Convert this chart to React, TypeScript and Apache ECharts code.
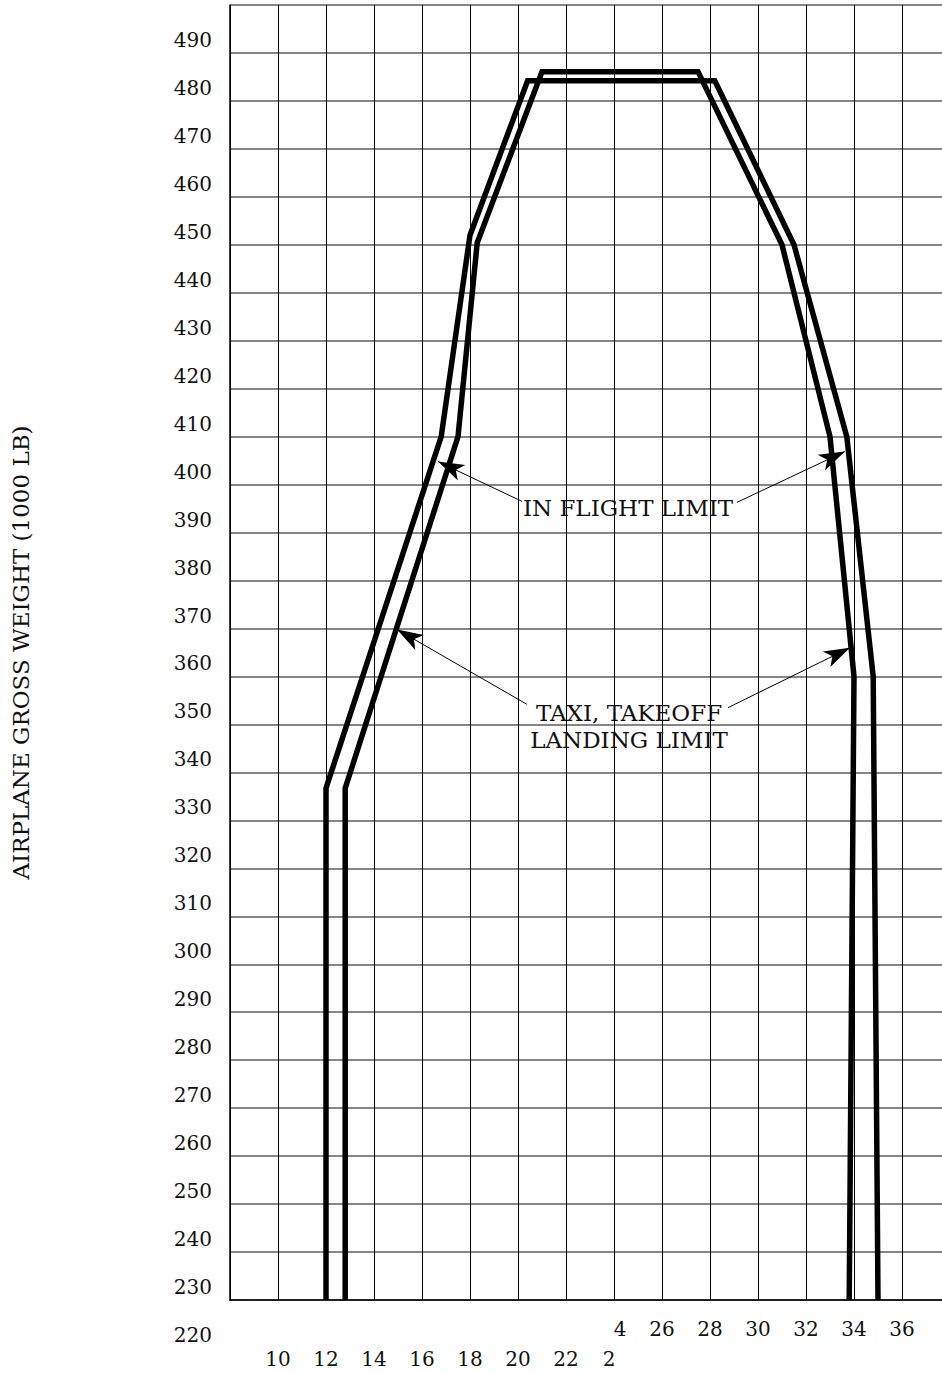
import React, { useEffect, useRef } from "react";
import * as echarts from "echarts";

// ---- data ----
const yTickLabels = [230, 240, 250, 260, 270, 280, 290, 300, 310, 320, 330, 340, 350, 360, 370, 380, 390, 400, 410, 420, 430, 440, 450, 460, 470, 480, 490];
const extraYLabel = 220;
const lowerRowLabels = [10, 12, 14, 16, 18, 20, 22];
const upperRowLabels = [26, 28, 30, 32, 34, 36];
const splitLabel = { value: 24, upper: "4", lower: "2" };

// In flight limit (outer envelope): [CG % MAC, weight 1000 lb]
const inFlightLimit: [number, number][] = [
  [12.0, 230], [12.0, 336.7], [16.8, 410], [18.0, 452], [20.4, 484.2],
  [28.2, 484.2], [31.5, 450], [33.7, 410], [34.8, 360], [35.0, 230],
];
// Taxi, takeoff, landing limit (inner envelope)
const taxiLimit: [number, number][] = [
  [12.8, 230], [12.8, 336.7], [17.5, 410], [18.3, 450.4], [21.0, 486.1],
  [27.5, 486.1], [31.0, 450], [33.0, 410], [34.0, 360], [33.8, 230],
];

// annotation arrows: [from, to] in data coordinates
const inFlightArrows: [number, number][][] = [
  [[20.17, 396.5], [16.67, 404.8]],
  [[29.12, 396.3], [33.62, 406.9]],
];
const taxiArrows: [number, number][][] = [
  [[20.37, 354.2], [14.96, 369.8]],
  [[28.75, 353.5], [33.83, 366.0]],
];

const FONT = "DejaVu Serif";
const INK = "#111";

export default function App() {
  const ref = useRef<HTMLDivElement>(null);
  useEffect(() => {
    if (!ref.current) return;
    const chart = echarts.init(ref.current, undefined, { renderer: "svg" });
    const labelStyle = { fontFamily: FONT, fontSize: 20, color: INK, lineHeight: 30 };
    const yLabel = {
      margin: 18,
      verticalAlign: "bottom",
      lineHeight: 26,
      fontFamily: FONT,
      fontSize: 20,
      color: INK,
      showMinLabel: true,
    };
    const arrowData = [...inFlightArrows, ...taxiArrows].map((a) => [
      { coord: a[0] },
      { coord: a[1] },
    ]);
    chart.setOption({
      animation: false,
      backgroundColor: "#fff",
      textStyle: { fontFamily: FONT },
      grid: [
        { left: 230, right: 0, top: 5, bottom: 73, containLabel: false, outerBoundsMode: "none" },
        { left: 230, right: 0, top: 1300, height: 48, containLabel: false, outerBoundsMode: "none" },
      ],
      xAxis: [
        {
          type: "value",
          gridIndex: 0,
          min: 8,
          max: 8 + 712 / 24,
          interval: 2,
          axisLine: { show: true, lineStyle: { color: "#000", width: 1.5 } },
          axisTick: { show: false },
          splitLine: { show: true, lineStyle: { color: "#000", width: 1 } },
          axisLabel: {
            interval: 0,
            margin: 14,
            hideOverlap: false,
            showMinLabel: true,
            showMaxLabel: true,
            formatter: (v: number) => {
              if (lowerRowLabels.includes(v)) return `{n| }\n{n|${v}}`;
              if (upperRowLabels.includes(v)) return `{n|${v}}\n{n| }`;
              if (v === splitLabel.value) return `{r|${splitLabel.upper}}\n{l|${splitLabel.lower}}`;
              return "";
            },
            rich: {
              n: { ...labelStyle },
              r: { ...labelStyle, padding: [0, 0, 0, 12] },
              l: { ...labelStyle, padding: [0, 10, 0, 0] },
            },
          },
        },
        { type: "value", gridIndex: 1, min: 0, max: 1, show: false },
      ],
      yAxis: [
        {
          type: "value",
          gridIndex: 0,
          min: 230,
          max: 500,
          interval: 10,
          name: "AIRPLANE GROSS WEIGHT (1000 LB)",
          nameLocation: "middle",
          nameRotate: 90,
          nameGap: 198,
          nameTextStyle: { fontFamily: FONT, fontSize: 23, color: INK },
          axisLine: { show: true, lineStyle: { color: "#000", width: 1.5 } },
          axisTick: { show: false },
          splitLine: { show: true, lineStyle: { color: "#5e5e5e", width: 1.5 } },
          axisLabel: {
            ...yLabel,
            formatter: (v: number) => (yTickLabels.includes(v) ? String(v) : ""),
          },
        },
        {
          type: "value",
          gridIndex: 1,
          min: 220,
          max: 230,
          interval: 10,
          axisLine: { show: false },
          axisTick: { show: false },
          splitLine: { show: false },
          axisLabel: {
            ...yLabel,
            formatter: (v: number) => (v === extraYLabel ? String(v) : ""),
          },
        },
      ],
      series: [
        {
          name: "In flight limit",
          type: "line",
          xAxisIndex: 0,
          yAxisIndex: 0,
          data: inFlightLimit,
          showSymbol: false,
          symbol: "none",
          silent: true,
          z: 5,
          lineStyle: { color: "#000", width: 5.5, join: "miter", cap: "butt" },
        },
        {
          name: "Taxi, takeoff, landing limit",
          type: "line",
          xAxisIndex: 0,
          yAxisIndex: 0,
          data: taxiLimit,
          showSymbol: false,
          symbol: "none",
          silent: true,
          z: 5,
          lineStyle: { color: "#000", width: 5.5, join: "miter", cap: "butt" },
        },
        {
          name: "arrows",
          type: "line",
          xAxisIndex: 0,
          yAxisIndex: 0,
          data: [],
          silent: true,
          z: 6,
          markLine: {
            silent: true,
            animation: false,
            symbol: ["none", "arrow"],
            symbolSize: [13, 26],
            label: { show: false },
            emphasis: { disabled: true },
            lineStyle: { color: "#000", width: 1, type: "solid" },
            itemStyle: { color: "#000" },
            data: arrowData,
          },
        },
      ],
      graphic: [
        {
          type: "group",
          z: 20,
          children: [
            { type: "rect", shape: { x: 519, y: 490, width: 218, height: 35 }, style: { fill: "#fff" } },
            {
              type: "text",
              x: 628,
              y: 508,
              style: {
                text: "IN FLIGHT LIMIT",
                fontFamily: FONT,
                fontSize: 23,
                fill: INK,
                align: "center",
                verticalAlign: "middle",
              },
            },
            { type: "rect", shape: { x: 521, y: 697, width: 221, height: 60 }, style: { fill: "#fff" } },
            {
              type: "text",
              x: 629,
              y: 726.5,
              style: {
                text: "TAXI, TAKEOFF\nLANDING LIMIT",
                fontFamily: FONT,
                fontSize: 23,
                lineHeight: 27,
                fill: INK,
                align: "center",
                verticalAlign: "middle",
              },
            },
          ],
        },
      ],
    });
    return () => chart.dispose();
  }, []);
  return (
    <div
      ref={ref}
      style={{ position: "absolute", left: 0, top: 0, width: 942, height: 1373, background: "#fff" }}
    />
  );
}
